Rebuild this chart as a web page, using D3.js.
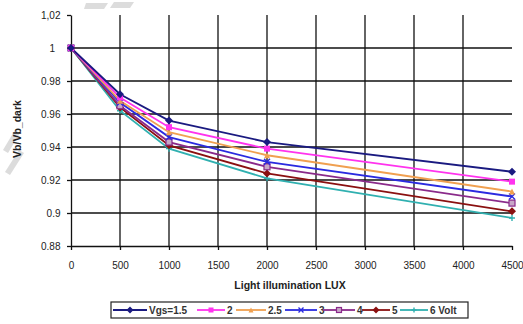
<!DOCTYPE html>
<html>
<head>
<meta charset="utf-8">
<script src="https://cdn.jsdelivr.net/npm/d3@7"></script>
<style>
  html, body { margin: 0; padding: 0; background: #fff; }
  svg { display: block; }
  text { font-family: Arial, "Liberation Sans", sans-serif; }
</style>
</head>
<body>
<svg id="chart" width="523" height="324"></svg>
<script>
// Illumination levels (LUX) at which Vb was measured
const lux = [0, 500, 1000, 2000, 4500];

// Series names (gate voltages) as shown in the legend
const seriesNames = ["Vgs=1.5", "2", "2.5", "3", "4", "5", "6 Volt"];

// Normalised body voltage Vb/Vb_dark for each gate voltage
const vgs15 = [1, 0.972, 0.956, 0.943, 0.925];
const vgs2  = [1, 0.970, 0.952, 0.939, 0.919];
const vgs25 = [1, 0.968, 0.949, 0.935, 0.913];
const vgs3  = [1, 0.967, 0.946, 0.931, 0.910];
const vgs4  = [1, 0.965, 0.943, 0.928, 0.906];
const vgs5  = [1, 0.964, 0.941, 0.924, 0.901];
const vgs6  = [1, 0.962, 0.939, 0.921, 0.897];

// Axis ticks
const xTicks = [0, 500, 1000, 1500, 2000, 2500, 3000, 3500, 4000, 4500];
const yTicks = [0.88, 0.9, 0.92, 0.94, 0.96, 0.98, 1, 1.02];
const yTickLabels = ["0.88", "0.9", "0.92", "0.94", "0.96", "0.98", "1", "1,02"];

const seriesValues = [vgs15, vgs2, vgs25, vgs3, vgs4, vgs5, vgs6];
const colors = ["#1a1a80", "#ff33ee", "#f0a050", "#2a2ae0", "#8a2a8a", "#8a1010", "#30b0b0"];
const markers = ["diamond", "square", "triangle", "x", "square-open", "diamond", "plus"];

const svg = d3.select("#chart");

const x = d3.scaleLinear().domain([0, 4500]).range([71, 512]);
const y = d3.scaleLinear().domain([0.88, 1.02]).range([246, 15]);

// faint grey diagonal strokes in the background
const bg = svg.append("g").attr("fill", "#d4d4d4").attr("opacity", 0.8);
bg.append("path").attr("d", "M86,3 L108,3 L104,9 L84,9 Z");
bg.append("path").attr("d", "M114,2 L134,2 L130,8 L110,8 Z");
bg.append("path").attr("d", "M3,150 L15,130 L20,133 L8,153 Z");
bg.append("path").attr("d", "M5,172 L19,150 L24,153 L10,175 Z");

// grid
const grid = svg.append("g").attr("stroke", "#111").attr("stroke-width", 1.3);
grid.selectAll("line.h")
  .data(yTicks.filter(v => v > 0.88 && v < 1.01))
  .join("line")
  .attr("x1", x(0)).attr("x2", x(4500))
  .attr("y1", d => y(d)).attr("y2", d => y(d));
grid.selectAll("line.v")
  .data(xTicks.filter(v => v > 0 && v < 4500))
  .join("line")
  .attr("x1", d => x(d)).attr("x2", d => x(d))
  .attr("y1", y(1.02)).attr("y2", y(0.88));

// axes
const xAxis = d3.axisBottom(x).tickValues(xTicks).tickSize(4).tickSizeOuter(0).tickFormat(d3.format("d"));
const gx = svg.append("g").attr("transform", `translate(0,${y(0.88)})`).call(xAxis);
gx.select(".domain").attr("stroke", "#111").attr("stroke-width", 1.3);
gx.selectAll(".tick line").attr("stroke", "#111").attr("stroke-width", 1.3);
gx.selectAll(".tick text").attr("font-size", 10).attr("fill", "#222").attr("dy", "1.6em");

const yAxis = d3.axisLeft(y).tickValues(yTicks).tickSize(4).tickSizeOuter(0)
  .tickFormat((d, i) => yTickLabels[i]);
const gy = svg.append("g").attr("transform", `translate(${x(0)},0)`).call(yAxis);
gy.select(".domain").attr("stroke", "#111").attr("stroke-width", 1.3);
gy.selectAll(".tick line").attr("stroke", "#111").attr("stroke-width", 1.3);
gy.selectAll(".tick text").attr("font-size", 10).attr("fill", "#222")
  .attr("dx", d => d === 1 ? "-0.9em" : "-0.35em");

// axis titles
svg.append("text").attr("x", 290).attr("y", 289).attr("text-anchor", "middle")
  .attr("font-size", 10.5).attr("font-weight", "bold").attr("fill", "#222")
  .text("Light illumination LUX");
svg.append("text").attr("transform", "translate(21,129) rotate(-90)").attr("text-anchor", "middle")
  .attr("font-size", 10.5).attr("font-weight", "bold").attr("fill", "#222")
  .text("Vb/Vb_dark");

// marker drawing helper
function drawMarker(g, type, color, cx, cy, s) {
  const h = s / 2;
  if (type === "diamond") {
    g.append("path").attr("d", `M${cx},${cy - h - 1}L${cx + h + 1},${cy}L${cx},${cy + h + 1}L${cx - h - 1},${cy}Z`).attr("fill", color);
  } else if (type === "square") {
    g.append("rect").attr("x", cx - h).attr("y", cy - h).attr("width", s).attr("height", s).attr("fill", color);
  } else if (type === "square-open") {
    g.append("rect").attr("x", cx - h).attr("y", cy - h).attr("width", s).attr("height", s)
      .attr("fill", "#c8a8c8").attr("stroke", color).attr("stroke-width", 1.2);
  } else if (type === "triangle") {
    g.append("path").attr("d", `M${cx},${cy - h}L${cx + h},${cy + h}L${cx - h},${cy + h}Z`).attr("fill", color);
  } else if (type === "x") {
    g.append("path").attr("d", `M${cx - h},${cy - h}L${cx + h},${cy + h}M${cx - h},${cy + h}L${cx + h},${cy - h}`)
      .attr("stroke", color).attr("stroke-width", 1.4);
  } else if (type === "plus") {
    g.append("path").attr("d", `M${cx - h},${cy}L${cx + h},${cy}M${cx},${cy - h}L${cx},${cy + h}`)
      .attr("stroke", color).attr("stroke-width", 1.4);
  }
}

// series lines and markers (drawn back to front)
const line = d3.line().x((d, i) => x(lux[i])).y(d => y(d));
const plot = svg.append("g");
for (let k = seriesValues.length - 1; k >= 0; k--) {
  plot.append("path").datum(seriesValues[k]).attr("d", line)
    .attr("fill", "none").attr("stroke", colors[k]).attr("stroke-width", 1.8);
}
for (let k = seriesValues.length - 1; k >= 0; k--) {
  const g = plot.append("g");
  seriesValues[k].forEach((v, i) => drawMarker(g, markers[k], colors[k], x(lux[i]), y(v), 6));
}

// legend
const legend = svg.append("g");
legend.append("rect").attr("x", 111).attr("y", 302).attr("width", 357).attr("height", 16)
  .attr("fill", "#fff").attr("stroke", "#222").attr("stroke-width", 1.2);
const itemX = [113, 197, 236, 285, 323, 362, 400];
const lineLen = [34, 28, 30, 32, 32, 28, 28];
seriesNames.forEach((name, k) => {
  const lx = itemX[k];
  const cy = 310;
  legend.append("line").attr("x1", lx).attr("x2", lx + lineLen[k]).attr("y1", cy).attr("y2", cy)
    .attr("stroke", colors[k]).attr("stroke-width", 1.8);
  drawMarker(legend, markers[k], colors[k], lx + lineLen[k] / 2, cy, 5);
  legend.append("text").attr("x", lx + lineLen[k] + 2).attr("y", cy + 3.5).attr("font-size", 10)
    .attr("font-weight", "bold").attr("fill", "#333").text(name);
});
</script>
</body>
</html>
